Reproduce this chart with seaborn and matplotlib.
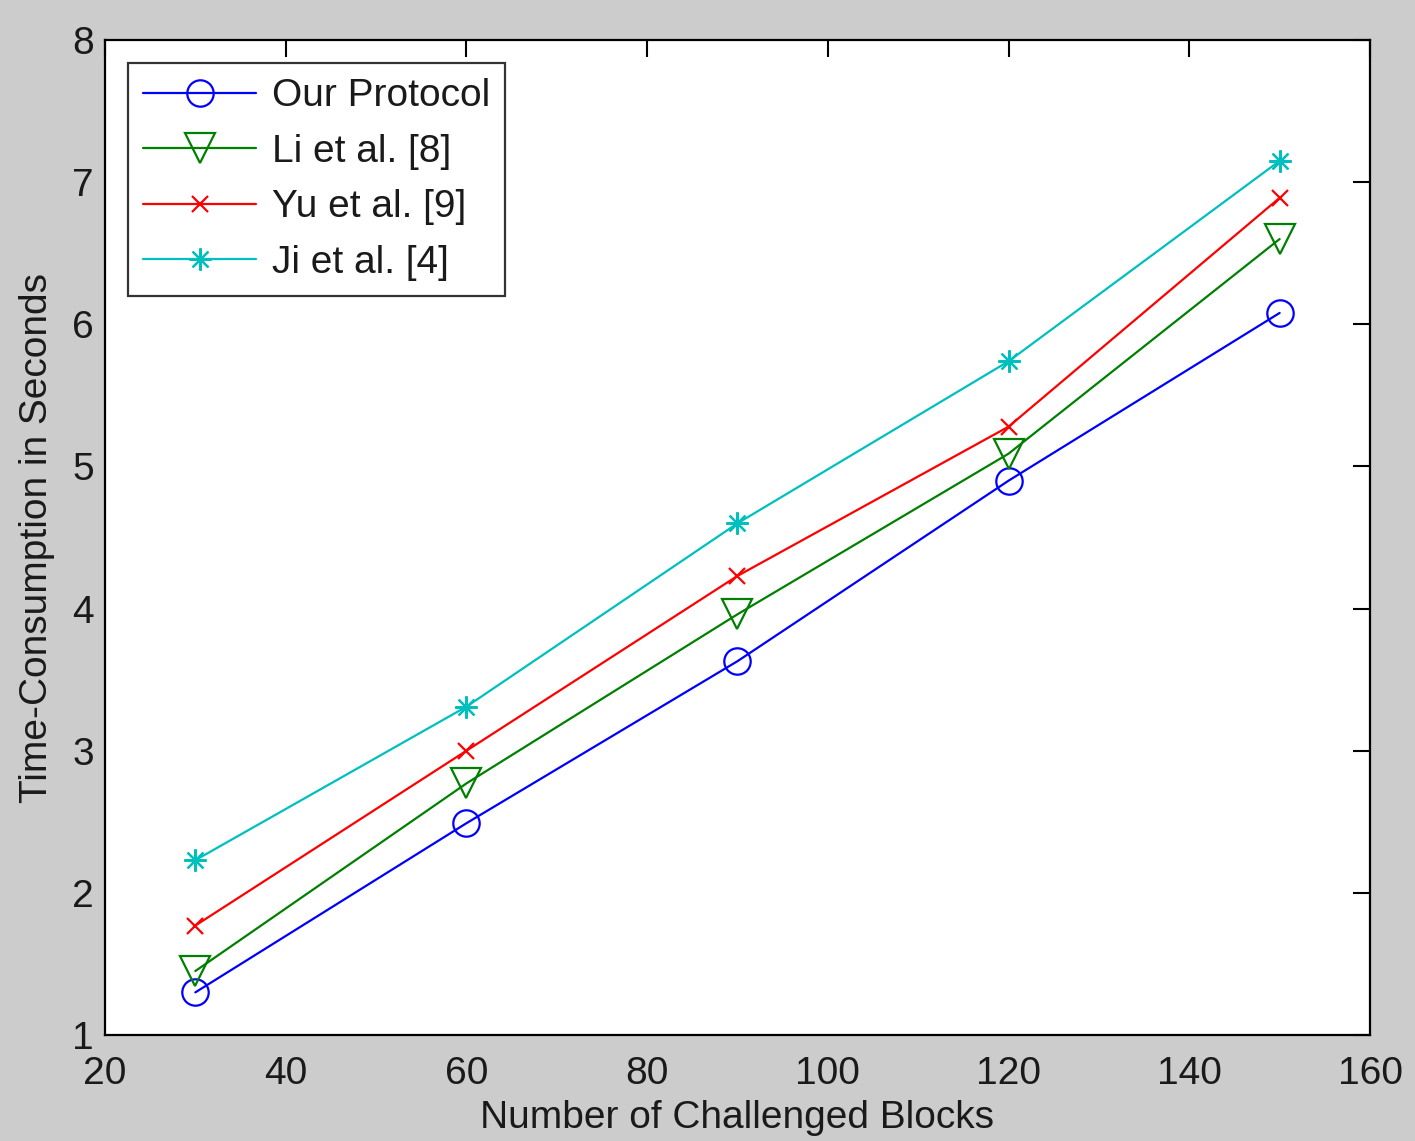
import matplotlib
matplotlib.use("Agg")
import matplotlib.pyplot as plt
import seaborn as sns
import pandas as pd

blocks = [30, 60, 90, 120, 150]
our_protocol = [1.30, 2.49, 3.63, 4.90, 6.08]
li_et_al = [1.45, 2.77, 3.96, 5.09, 6.60]
yu_et_al = [1.77, 3.00, 4.23, 5.28, 6.89]
ji_et_al = [2.23, 3.31, 4.60, 5.74, 7.15]

labels = ["Our Protocol", "Li et al. [8]", "Yu et al. [9]", "Ji et al. [4]"]
series = [our_protocol, li_et_al, yu_et_al, ji_et_al]
colors = ["#0000ff", "#008000", "#ff0000", "#00bfbf"]
markers = ["o", "v", "x", (8, 2, 0)]
msizes = [19, 22, 11, 16]

sns.set_style("white")
plt.rcParams["font.family"] = ["Liberation Sans", "DejaVu Sans"]
plt.rcParams["text.color"] = "#1a1a1a"
plt.rcParams["axes.labelcolor"] = "#1a1a1a"

fig = plt.figure(figsize=(14.15, 11.41), dpi=100, facecolor="#cccccc")
ax = fig.add_axes([0.0742, 0.0929, 0.894, 0.872])
ax.set_facecolor("white")

for lab, vals, c, m, ms in zip(labels, series, colors, markers, msizes):
    df = pd.DataFrame({"x": blocks, "y": vals})
    sns.lineplot(data=df, x="x", y="y", ax=ax, color=c, marker=m,
                 markersize=ms, markerfacecolor="none", markeredgecolor=c,
                 markeredgewidth=1.6, linewidth=1.6, label=lab)

ax.set_xlim(20, 160)
ax.set_ylim(1, 8)
ax.set_xticks(range(20, 161, 20))
ax.set_yticks(range(1, 9))
ax.tick_params(direction="in", length=12, width=1.5, top=True, right=True,
               labelsize=28, colors="black", labelcolor="#1a1a1a")
ax.tick_params(axis="x", pad=15)
ax.tick_params(axis="y", pad=8)
for s in ax.spines.values():
    s.set_color("black")
    s.set_linewidth(1.6)
    s.set_visible(True)

ax.set_xlabel("Number of Challenged Blocks", fontsize=28, labelpad=6)
ax.set_ylabel("Time-Consumption in Seconds", fontsize=28, labelpad=12)

leg = ax.legend(loc="upper left", bbox_to_anchor=(0.018, 0.977), fontsize=28,
                frameon=True, fancybox=False, edgecolor="black",
                handlelength=2.9, handletextpad=0.4, borderpad=0.4,
                labelspacing=0.5, borderaxespad=0)
leg.get_frame().set_linewidth(1.6)

fig.savefig("out.png", dpi=100, facecolor=fig.get_facecolor())
